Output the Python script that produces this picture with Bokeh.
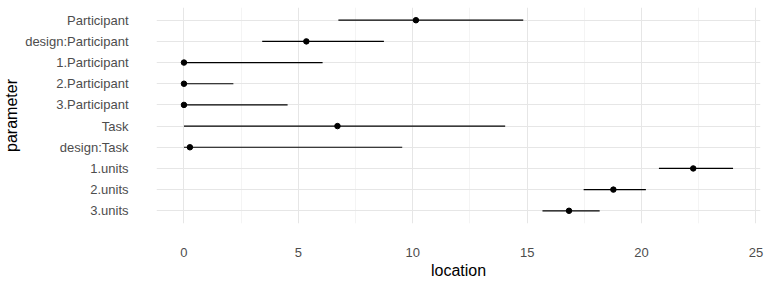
from bokeh.plotting import figure
from bokeh.models import FactorRange, Range1d, FixedTicker, ColumnDataSource
from bokeh.embed import file_html
from bokeh.resources import INLINE

parameters = ["Participant", "design:Participant", "1.Participant", "2.Participant",
              "3.Participant", "Task", "design:Task", "1.units", "2.units", "3.units"]
location = [10.14, 5.35, 0.0, 0.0, 0.0, 6.71, 0.26, 22.26, 18.77, 16.83]
lower = [6.75, 3.42, 0.0, 0.0, 0.0, 0.0, 0.0, 20.76, 17.47, 15.67]
upper = [14.83, 8.74, 6.06, 2.16, 4.53, 14.04, 9.54, 24.0, 20.19, 18.17]
x_ticks = [0, 5, 10, 15, 20, 25]
x_minor = [2.5, 7.5, 12.5, 17.5, 22.5]

FONT = "Arial"

src = ColumnDataSource(dict(param=parameters, loc=location, lo=lower, hi=upper))

yr = FactorRange(factors=list(reversed(parameters)), range_padding=0.1,
                 range_padding_units="absolute")
p = figure(width=768, height=288, y_range=yr, x_range=Range1d(-1.2, 25.2),
           output_backend="svg", toolbar_location=None,
           min_border_left=156, min_border_right=8, min_border_top=7, min_border_bottom=65)
p.outline_line_color = None
p.background_fill_color = "white"
p.border_fill_color = "white"

p.segment(x0="lo", x1="hi", y0="param", y1="param", source=src, line_color="black", line_width=1.2)
p.scatter(x="loc", y="param", source=src, size=5.5, color="black")

p.xaxis.ticker = FixedTicker(ticks=x_ticks, minor_ticks=x_minor)
for ax in (p.xaxis[0], p.yaxis[0]):
    ax.axis_line_color = None
    ax.major_tick_line_color = None
    ax.minor_tick_line_color = None
    ax.major_label_text_font = FONT
    ax.major_label_text_font_size = "13px"
    ax.major_label_text_color = "#4D4D4D"
    ax.axis_label_text_font = FONT
    ax.axis_label_text_font_size = "16px"
    ax.axis_label_text_font_style = "normal"
    ax.axis_label_text_color = "black"

p.yaxis.major_label_text_align = "right"
p.xaxis.major_label_standoff = 18
p.yaxis.major_label_standoff = 22
p.xaxis.axis_label = "location"
p.yaxis.axis_label = "parameter"
p.xaxis.axis_label_standoff = 2
p.yaxis.axis_label_standoff = 2

p.xgrid.grid_line_color = "#E6E6E6"
p.ygrid.grid_line_color = "#E6E6E6"
p.xgrid.grid_line_width = 1
p.ygrid.grid_line_width = 1
p.xgrid.minor_grid_line_color = "#F4F4F4"
p.xgrid.minor_grid_line_width = 1

open("out.html", "w").write(file_html(p, INLINE))
